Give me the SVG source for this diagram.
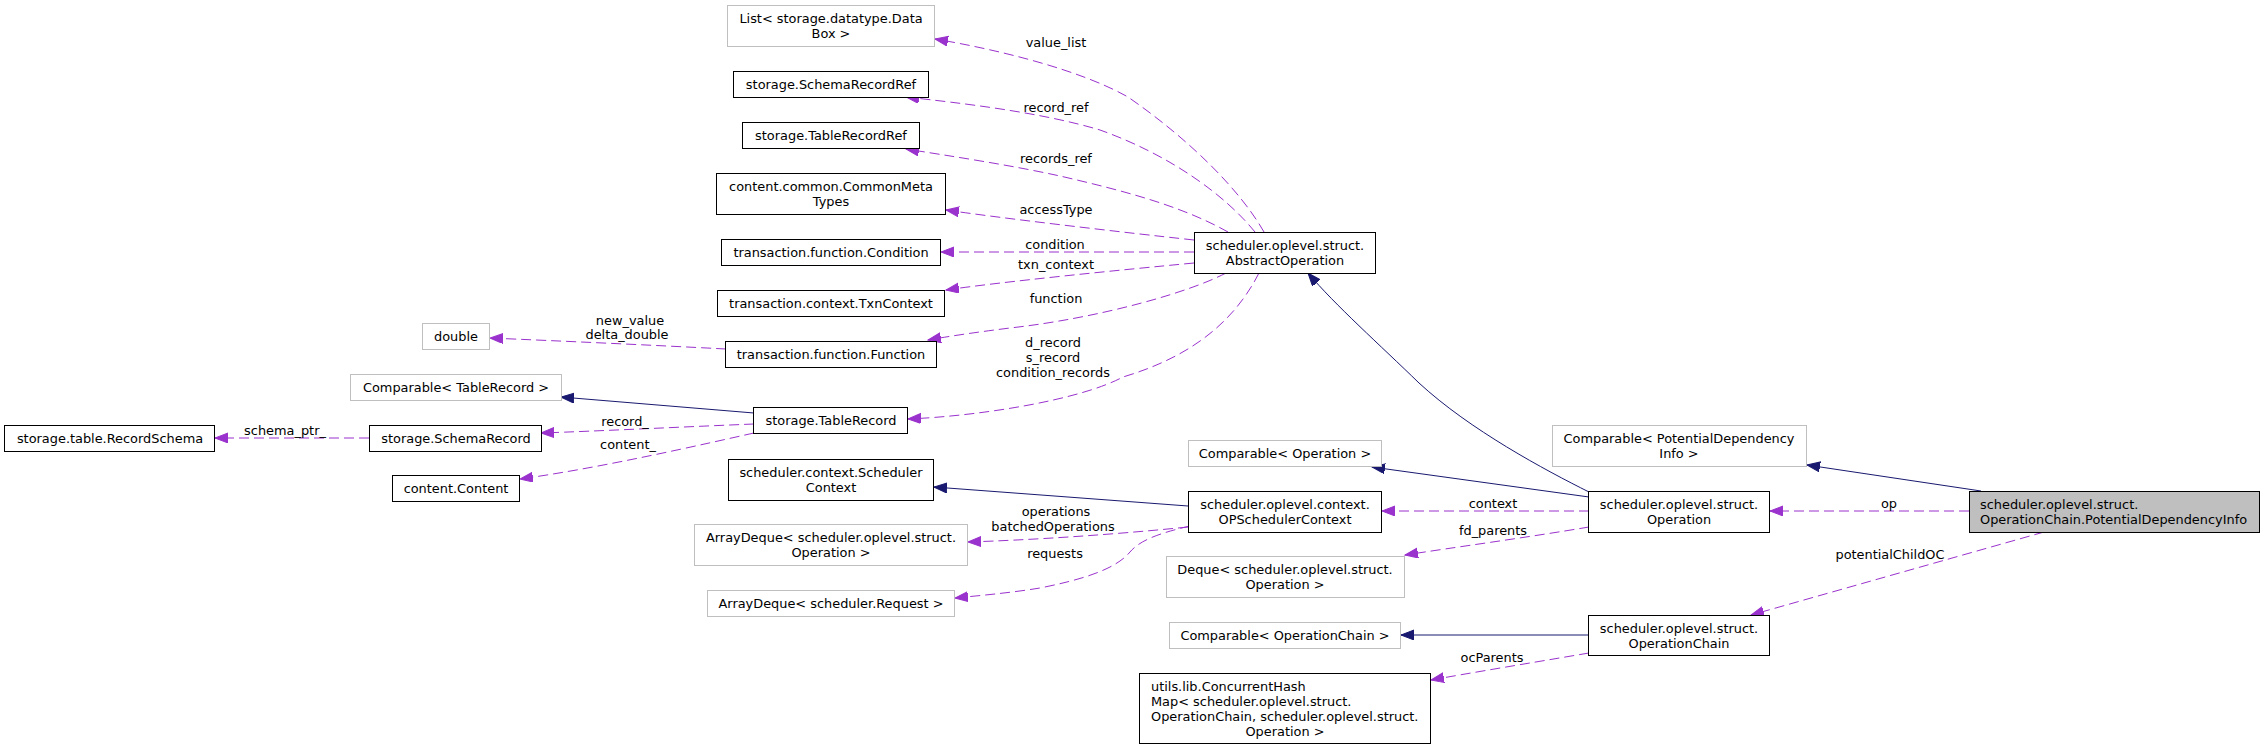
<svg xmlns="http://www.w3.org/2000/svg" width="2265" height="749" viewBox="0 0 2265 749">
<style>
  text { font-family: "DejaVu Sans", "Liberation Sans", sans-serif; font-size: 12.9px; fill: #000; }
  .c { text-anchor: middle; }
  .l { text-anchor: start; }
  .n rect { fill: #fff; stroke: #000; stroke-width: 1; }
  .n.ext rect { stroke: #bfbfbf; }
  .n.cur rect { fill: #bfbfbf; stroke: #000; }
  .use { fill: none; stroke: #9a32cd; stroke-width: 1; stroke-dasharray: 10,5; marker-end: url(#ap); }
  .inh { fill: none; stroke: #191970; stroke-width: 1; marker-end: url(#ab); }
</style>
<defs>
  <marker id="ap" markerUnits="userSpaceOnUse" markerWidth="15" markerHeight="11" refX="13" refY="5" orient="auto">
    <path d="M0,0 L13,5 L0,10 z" fill="#9a32cd" stroke="#9a32cd" stroke-width="1"/>
  </marker>
  <marker id="ab" markerUnits="userSpaceOnUse" markerWidth="15" markerHeight="11" refX="13" refY="5" orient="auto">
    <path d="M0,0 L13,5 L0,10 z" fill="#191970" stroke="#191970" stroke-width="1"/>
  </marker>
</defs>
<rect x="0" y="0" width="2265" height="749" fill="#fff"/>

<g id="connectors">
  <path class="use" d="M1264,232 C1240,190 1190,140 1128,97 C1080,70 1000,50 935,39"/>
  <path class="use" d="M1255,232 C1225,195 1170,155 1100,130 C1040,112 960,103 906,97"/>
  <path class="use" d="M1228,232 C1180,205 1120,190 1060,176 C1010,165 950,156 906,149"/>
  <path class="use" d="M1194,240 C1120,232 1000,218 946,210"/>
  <path class="use" d="M1194,252 L941,252"/>
  <path class="use" d="M1194,263 C1120,270 1000,282 946,290"/>
  <path class="use" d="M1226,273 C1190,292 1100,318 1010,328 C970,333 945,337 928,340"/>
  <path class="use" d="M1259,273 C1230,330 1180,360 1123,377 C1080,400 980,416 908,419"/>
  <path class="use" d="M726,349 C650,345 560,341 490,338"/>
  <path class="inh" d="M754,413 L561,397"/>
  <path class="use" d="M754,424 C680,427 600,431 541,433"/>
  <path class="use" d="M754,433 C700,445 600,468 520,479"/>
  <path class="use" d="M369,438 L215,438"/>
  <path class="inh" d="M1188,506 L934,487"/>
  <path class="inh" d="M1589,497 L1372,467"/>
  <path class="inh" d="M1589,492 C1545,470 1470,430 1419,383 C1380,345 1335,305 1308,273"/>
  <path class="use" d="M1589,511 L1382,511"/>
  <path class="use" d="M1589,527 C1530,537 1450,548 1405,555"/>
  <path class="use" d="M1188,527 C1110,535 1030,540 968,542"/>
  <path class="use" d="M1190,526 C1160,533 1140,540 1130,552 C1115,570 1080,580 1040,588 C1010,593 975,596 955,598"/>
  <path class="inh" d="M1589,635 L1401,635"/>
  <path class="use" d="M1589,653 C1530,663 1470,673 1431,680"/>
  <path class="inh" d="M1981,491 L1807,465"/>
  <path class="use" d="M1969,511 L1770,511"/>
  <path class="use" d="M2044,532 L1751,615"/>

  <text class="c" x="1056" y="47">value_list</text>
  <text class="c" x="1056" y="112">record_ref</text>
  <text class="c" x="1056" y="163">records_ref</text>
  <text class="c" x="1056" y="214">accessType</text>
  <text class="c" x="1055" y="249">condition</text>
  <text class="c" x="1056" y="269">txn_context</text>
  <text class="c" x="1056" y="303">function</text>
  <text class="c" x="1053" y="347">d_record</text>
  <text class="c" x="1053" y="362">s_record</text>
  <text class="c" x="1053" y="377">condition_records</text>
  <text class="c" x="630" y="325">new_value</text>
  <text class="c" x="627" y="339">delta_double</text>
  <text class="c" x="625" y="426">record_</text>
  <text class="c" x="628" y="449">content_</text>
  <text class="c" x="285" y="435">schema_ptr_</text>
  <text class="c" x="1493" y="508">context</text>
  <text class="c" x="1493" y="535">fd_parents</text>
  <text class="c" x="1056" y="516">operations</text>
  <text class="c" x="1053" y="531">batchedOperations</text>
  <text class="c" x="1055" y="558">requests</text>
  <text class="c" x="1492" y="662">ocParents</text>
  <text class="c" x="1889" y="508">op</text>
  <text class="c" x="1890" y="559">potentialChildOC</text>
</g>

<g id="n_list" class="n ext"><rect x="727.5" y="5.5" width="207" height="41"/><text class="c" x="831" y="23">List&lt; storage.datatype.Data</text><text class="c" x="831" y="38">Box &gt;</text></g>
<g id="n_srr" class="n"><rect x="733.5" y="71.5" width="195" height="26"/><text class="c" x="831" y="89">storage.SchemaRecordRef</text></g>
<g id="n_trr" class="n"><rect x="742.5" y="122.5" width="177" height="26"/><text class="c" x="831" y="140">storage.TableRecordRef</text></g>
<g id="n_cmt" class="n"><rect x="716.5" y="173.5" width="229" height="41"/><text class="c" x="831" y="191">content.common.CommonMeta</text><text class="c" x="831" y="206">Types</text></g>
<g id="n_cond" class="n"><rect x="721.5" y="239.5" width="219" height="26"/><text class="c" x="831" y="257">transaction.function.Condition</text></g>
<g id="n_txn" class="n"><rect x="717.5" y="290.5" width="227" height="26"/><text class="c" x="831" y="308">transaction.context.TxnContext</text></g>
<g id="n_func" class="n"><rect x="725.5" y="341.5" width="211" height="26"/><text class="c" x="831" y="359">transaction.function.Function</text></g>
<g id="n_double" class="n ext"><rect x="422.5" y="323.5" width="67" height="26"/><text class="c" x="456" y="341">double</text></g>
<g id="n_comptr" class="n ext"><rect x="350.5" y="374.5" width="211" height="26"/><text class="c" x="456" y="392">Comparable&lt; TableRecord &gt;</text></g>
<g id="n_tr" class="n"><rect x="753.5" y="407.5" width="154" height="26"/><text class="c" x="831" y="425">storage.TableRecord</text></g>
<g id="n_rs" class="n"><rect x="4.5" y="425.5" width="210" height="26"/><text class="c" x="110" y="443">storage.table.RecordSchema</text></g>
<g id="n_sr" class="n"><rect x="369.5" y="425.5" width="172" height="26"/><text class="c" x="456" y="443">storage.SchemaRecord</text></g>
<g id="n_content" class="n"><rect x="392.5" y="475.5" width="127" height="26"/><text class="c" x="456" y="493">content.Content</text></g>
<g id="n_schedctx" class="n"><rect x="728.5" y="459.5" width="205" height="41"/><text class="c" x="831" y="477">scheduler.context.Scheduler</text><text class="c" x="831" y="492">Context</text></g>
<g id="n_adops" class="n ext"><rect x="694.5" y="524.5" width="273" height="41"/><text class="c" x="831" y="542">ArrayDeque&lt; scheduler.oplevel.struct.</text><text class="c" x="831" y="557">Operation &gt;</text></g>
<g id="n_adreq" class="n ext"><rect x="707.5" y="590.5" width="247" height="26"/><text class="c" x="831" y="608">ArrayDeque&lt; scheduler.Request &gt;</text></g>
<g id="n_ao" class="n"><rect x="1194.5" y="232.5" width="181" height="41"/><text class="c" x="1285" y="250">scheduler.oplevel.struct.</text><text class="c" x="1285" y="265">AbstractOperation</text></g>
<g id="n_compop" class="n ext"><rect x="1188.5" y="440.5" width="193" height="26"/><text class="c" x="1285" y="458">Comparable&lt; Operation &gt;</text></g>
<g id="n_opsched" class="n"><rect x="1188.5" y="491.5" width="193" height="41"/><text class="c" x="1285" y="509">scheduler.oplevel.context.</text><text class="c" x="1285" y="524">OPSchedulerContext</text></g>
<g id="n_deque" class="n ext"><rect x="1166.5" y="556.5" width="238" height="41"/><text class="c" x="1285" y="574">Deque&lt; scheduler.oplevel.struct.</text><text class="c" x="1285" y="589">Operation &gt;</text></g>
<g id="n_compoc" class="n ext"><rect x="1169.5" y="622.5" width="231" height="26"/><text class="c" x="1285" y="640">Comparable&lt; OperationChain &gt;</text></g>
<g id="n_utils" class="n"><rect x="1139.5" y="673.5" width="291" height="70"/><text class="l" x="1151" y="691">utils.lib.ConcurrentHash</text><text class="l" x="1151" y="706">Map&lt; scheduler.oplevel.struct.</text><text class="l" x="1151" y="721">OperationChain, scheduler.oplevel.struct.</text><text class="c" x="1285" y="736">Operation &gt;</text></g>
<g id="n_op" class="n"><rect x="1588.5" y="491.5" width="181" height="41"/><text class="c" x="1679" y="509">scheduler.oplevel.struct.</text><text class="c" x="1679" y="524">Operation</text></g>
<g id="n_oc" class="n"><rect x="1588.5" y="615.5" width="181" height="40"/><text class="c" x="1679" y="633">scheduler.oplevel.struct.</text><text class="c" x="1679" y="648">OperationChain</text></g>
<g id="n_comppdi" class="n ext"><rect x="1552.5" y="425.5" width="254" height="41"/><text class="c" x="1679" y="443">Comparable&lt; PotentialDependency</text><text class="c" x="1679" y="458">Info &gt;</text></g>
<g id="n_pdi" class="n cur"><rect x="1969.5" y="491.5" width="290" height="41"/><text class="l" x="1980" y="509">scheduler.oplevel.struct.</text><text class="l" x="1980" y="524">OperationChain.PotentialDependencyInfo</text></g>
</svg>
